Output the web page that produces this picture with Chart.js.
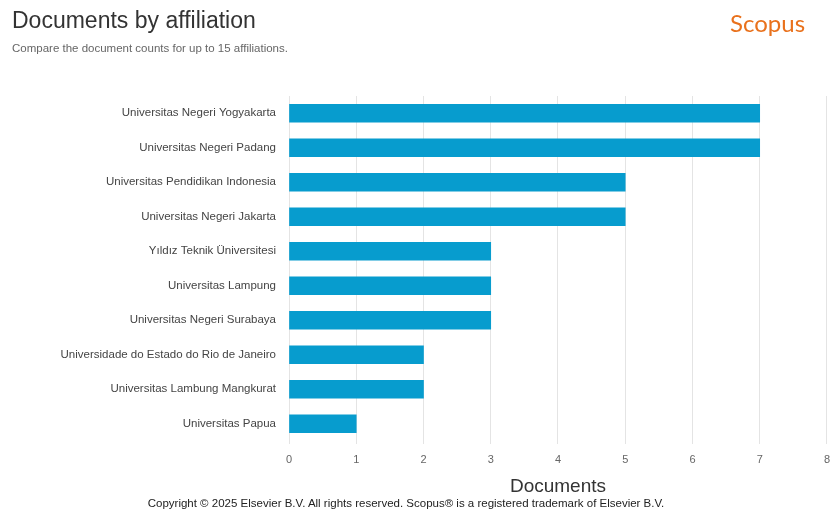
<!DOCTYPE html>
<html>
<head>
<meta charset="utf-8">
<script src="https://cdn.jsdelivr.net/npm/chart.js@4"></script>
<style>
  html, body { margin: 0; padding: 0; background: #fff; }
  body { width: 832px; height: 513px; position: relative; overflow: hidden; font-family: "Liberation Sans", Arial, sans-serif; }
  #title { position: absolute; left: 12px; top: 7px; font-size: 23px; color: #333; }
  #subtitle { position: absolute; left: 12px; top: 42px; font-size: 11.5px; color: #666; }
  #brand { position: absolute; left: 730px; top: 8px; font-family: Lato, "Open Sans", sans-serif; font-size: 24px; color: #e9711c; }
  #copy { position: absolute; left: 0; width: 812px; top: 497px; text-align: center; font-size: 11.5px; color: #222; }
  #wrap { position: absolute; left: 0; top: 0; width: 839px; height: 513px; }
</style>
</head>
<body>
<div id="wrap"><canvas id="aff-chart"></canvas></div>
<div id="title">Documents by affiliation</div>
<div id="subtitle">Compare the document counts for up to 15 affiliations.</div>
<div id="brand">Scopus</div>
<div id="copy">Copyright © 2025 Elsevier B.V. All rights reserved. Scopus® is a registered trademark of Elsevier B.V.</div>
<script>
const affiliations = [
    "Universitas Negeri Yogyakarta",
    "Universitas Negeri Padang",
    "Universitas Pendidikan Indonesia",
    "Universitas Negeri Jakarta",
    "Yıldız Teknik Üniversitesi",
    "Universitas Lampung",
    "Universitas Negeri Surabaya",
    "Universidade do Estado do Rio de Janeiro",
    "Universitas Lambung Mangkurat",
    "Universitas Papua"
]
const documentCounts = [7, 7, 5, 5, 3, 3, 3, 2, 2, 1]
const barColor = "#079cce"

;(function () {
    'use strict'

    let canvas = document.getElementById("aff-chart")
    let config = {
        type: "bar",
        data: {
            labels: affiliations,
            datasets: [
                {
                    data: documentCounts,
                    backgroundColor: barColor,
                    borderWidth: 0,
                    barThickness: 18
                }
            ]
        },
        options: {
            indexAxis: "y",
            responsive: true,
            maintainAspectRatio: false,
            animation: false,
            layout: {
                padding: { top: 96, right: 0, bottom: 15, left: 0 }
            },
            plugins: {
                legend: { display: false },
                tooltip: { enabled: false }
            },
            scales: {
                x: {
                    min: 0,
                    max: 8,
                    ticks: {
                        stepSize: 1,
                        color: "#666",
                        padding: 9,
                        font: { family: "Liberation Sans", size: 11 }
                    },
                    grid: {
                        color: "#e4e4e4",
                        tickLength: 3,
                        tickColor: "#e4e4e4"
                    },
                    border: { display: false },
                    title: {
                        display: true,
                        text: "Documents",
                        color: "#333",
                        padding: { top: 0, bottom: 0 },
                        font: { family: "Liberation Sans", size: 19 }
                    }
                },
                y: {
                    afterFit: scale => { scale.width = 289 },
                    ticks: {
                        color: "#444",
                        padding: 5,
                        font: { family: "Liberation Sans", size: 11.5 }
                    },
                    grid: { display: false },
                    border: { display: false }
                }
            }
        }
    }

    let chart = new Chart(canvas, config)
})()
</script>
</body>
</html>
